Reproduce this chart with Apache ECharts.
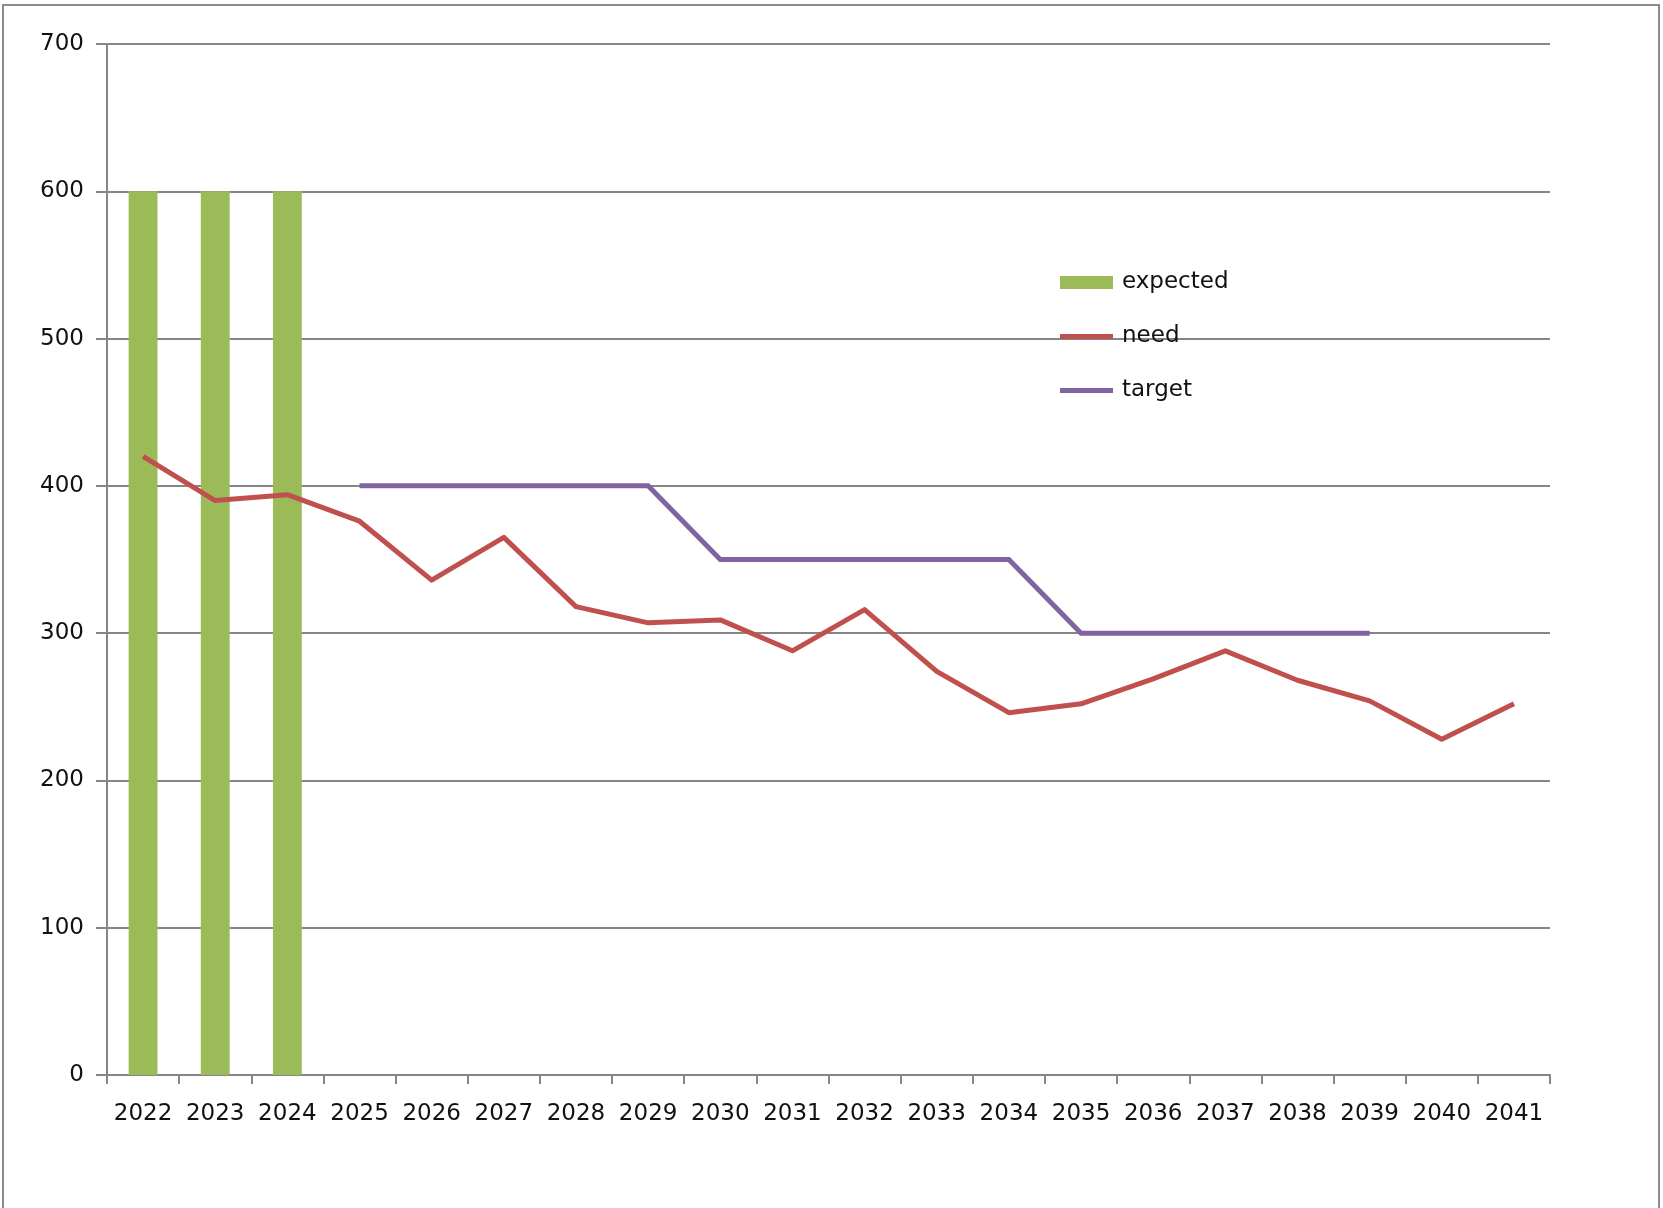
<!DOCTYPE html>
<html>
<head>
<meta charset="utf-8">
<title>expected / need / target</title>
<script src="https://cdn.jsdelivr.net/npm/echarts@6/dist/echarts.min.js"></script>
<style>
  html, body { margin: 0; padding: 0; background: #ffffff; }
  #chart { width: 1663px; height: 1208px; }
</style>
</head>
<body>
<div id="chart"></div>
<script>
// Years on the category axis
const years = ['2022', '2023', '2024', '2025', '2026', '2027', '2028', '2029', '2030', '2031',
               '2032', '2033', '2034', '2035', '2036', '2037', '2038', '2039', '2040', '2041'];

// Expected (bars), only the first three years
const expected = [600, 600, 600, null, null, null, null, null, null, null,
                  null, null, null, null, null, null, null, null, null, null];

// Need (red line)
const need = [420, 390, 394, 376, 336, 365, 318, 307, 309, 288,
              316, 274, 246, 252, 269, 288, 268, 254, 228, 252];

// Target (purple line), steps down every five years
const target = [null, null, null, 400, 400, 400, 400, 400, 350, 350,
                350, 350, 350, 300, 300, 300, 300, 300, null, null];

// Value axis ticks
const yMin = 0, yMax = 700, yStep = 100;

const FONT = 'DejaVu Sans';
const GRID_GRAY = '#868686';
const TEXT = '#111111';

const chart = echarts.init(document.getElementById('chart'), null, { renderer: 'canvas' });

chart.setOption({
  backgroundColor: '#ffffff',
  animation: false,
  textStyle: { fontFamily: FONT, color: TEXT },
  graphic: [{
    type: 'rect',
    shape: { x: 3, y: 5, width: 1656, height: 1220 },
    style: { fill: 'none', stroke: '#8c8c8c', lineWidth: 2 },
    silent: true,
    z: -1
  }],
  grid: { left: 107, right: 113, top: 44, bottom: 133, containLabel: false },
  legend: {
    orient: 'vertical',
    left: 1060,
    top: 271,
    padding: 0,
    itemWidth: 53,
    itemHeight: 13,
    itemGap: 31,
    textStyle: { fontFamily: FONT, fontSize: 23, color: TEXT, padding: [0, 0, 0, 4] },
    data: [
      { name: 'expected', icon: 'rect' },
      { name: 'need', icon: 'path://M0,0H53V5H0Z' },
      { name: 'target', icon: 'path://M0,0H53V5H0Z' }
    ]
  },
  xAxis: {
    type: 'category',
    data: years,
    boundaryGap: true,
    axisLine: { lineStyle: { color: GRID_GRAY, width: 2 } },
    axisTick: { show: true, alignWithLabel: false, length: 9, lineStyle: { color: GRID_GRAY, width: 2 } },
    axisLabel: { fontFamily: FONT, fontSize: 23, color: TEXT, margin: 28, interval: 0 },
    splitLine: { show: false }
  },
  yAxis: {
    type: 'value',
    min: yMin,
    max: yMax,
    interval: yStep,
    axisLine: { show: true, lineStyle: { color: GRID_GRAY, width: 2 } },
    axisTick: { show: true, length: 11, lineStyle: { color: GRID_GRAY, width: 2 } },
    axisLabel: { fontFamily: FONT, fontSize: 23, color: TEXT, margin: 23 },
    splitLine: { show: true, lineStyle: { color: GRID_GRAY, width: 2 } }
  },
  series: [
    {
      name: 'expected',
      type: 'bar',
      data: expected,
      barWidth: '40%',
      itemStyle: { color: '#9BBB59' },
      z: 1
    },
    {
      name: 'need',
      type: 'line',
      data: need,
      symbol: 'none',
      lineStyle: { color: '#C0504D', width: 5, join: 'round' },
      itemStyle: { color: '#C0504D' },
      z: 3
    },
    {
      name: 'target',
      type: 'line',
      data: target,
      symbol: 'none',
      connectNulls: false,
      lineStyle: { color: '#8064A2', width: 5, join: 'miter' },
      itemStyle: { color: '#8064A2' },
      z: 2
    }
  ]
});
</script>
</body>
</html>
